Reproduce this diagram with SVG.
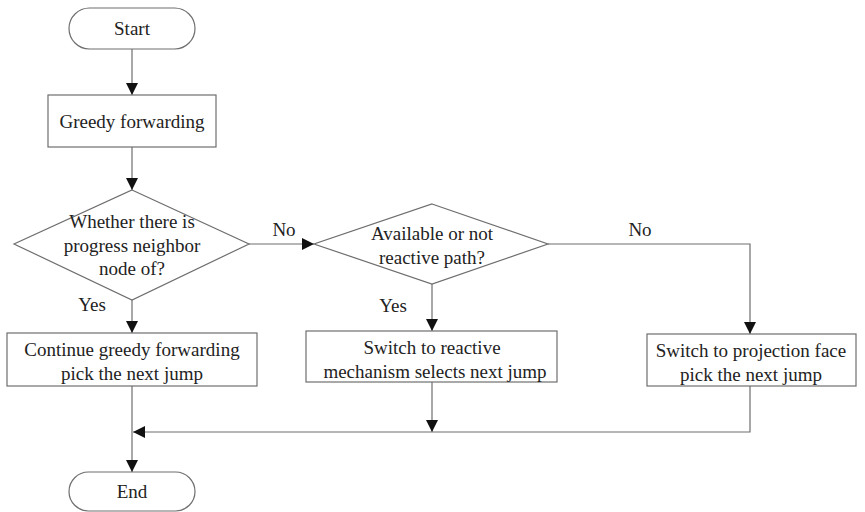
<svg xmlns="http://www.w3.org/2000/svg" width="865" height="512" viewBox="0 0 865 512">
  <style>
    .shape { fill: #ffffff; stroke: #6e6e6e; stroke-width: 1.2; }
    .line { fill: none; stroke: #6e6e6e; stroke-width: 1.2; }
    text { font-family: 'Liberation Serif', 'DejaVu Serif', serif; font-size: 19px; fill: #222222; text-anchor: middle; }
  </style>
  <defs>
    <marker id="arrow" viewBox="0 0 10 10" refX="10" refY="5" markerWidth="12" markerHeight="12" markerUnits="userSpaceOnUse" orient="auto">
      <path d="M0,0 L10,5 L0,10 Z" fill="#111111"/>
    </marker>
  </defs>
  <rect width="865" height="512" fill="#ffffff"/>

  <!-- flow lines and branch labels -->
  <g id="connectors">
    <line class="line" x1="132" y1="49" x2="132" y2="95" marker-end="url(#arrow)"/>
    <line class="line" x1="132" y1="147" x2="132" y2="190" marker-end="url(#arrow)"/>
    <line class="line" x1="132" y1="300" x2="132" y2="333" marker-end="url(#arrow)"/>
    <line class="line" x1="249" y1="244" x2="314" y2="244" marker-end="url(#arrow)"/>
    <line class="line" x1="432" y1="284" x2="432" y2="331" marker-end="url(#arrow)"/>
    <polyline class="line" points="548,244 750,244 750,334" marker-end="url(#arrow)"/>
    <line class="line" x1="432" y1="382" x2="432" y2="432" marker-end="url(#arrow)"/>
    <polyline class="line" points="750,386 750,432 133,432" marker-end="url(#arrow)"/>
    <line class="line" x1="132" y1="386" x2="132" y2="472" marker-end="url(#arrow)"/>
    <text x="284" y="236">No</text>
    <text x="640" y="236">No</text>
    <text x="92" y="311">Yes</text>
    <text x="393" y="312">Yes</text>
  </g>

  <g id="start">
    <rect class="shape" x="69" y="8" width="126" height="41" rx="20.5" ry="20.5"/>
    <text x="132" y="35">Start</text>
  </g>

  <g id="greedy">
    <rect class="shape" x="48" y="95" width="168" height="52"/>
    <text x="132" y="128">Greedy forwarding</text>
  </g>

  <g id="progress-check">
    <polygon class="shape" points="132,190 249,244 132,300 14,244"/>
    <text x="132" y="228">Whether there is</text>
    <text x="132" y="252">progress neighbor</text>
    <text x="132" y="275">node of?</text>
  </g>

  <g id="reactive-check">
    <polygon class="shape" points="432,204 548,244 432,284 314,244"/>
    <text x="432" y="240">Available or not</text>
    <text x="432" y="264">reactive path?</text>
  </g>

  <g id="continue-greedy">
    <rect class="shape" x="7" y="333" width="250" height="53"/>
    <text x="132" y="356">Continue greedy forwarding</text>
    <text x="132" y="380">pick the next jump</text>
  </g>

  <g id="reactive-switch">
    <rect class="shape" x="306" y="331" width="251" height="51"/>
    <text x="432" y="354">Switch to reactive</text>
    <text x="435" y="378">mechanism selects next jump</text>
  </g>

  <g id="projection-face">
    <rect class="shape" x="647" y="334" width="209" height="52"/>
    <text x="751" y="357">Switch to projection face</text>
    <text x="751" y="381">pick the next jump</text>
  </g>

  <g id="end">
    <rect class="shape" x="69" y="472" width="126" height="39" rx="19.5" ry="19.5"/>
    <text x="132" y="498">End</text>
  </g>
</svg>
